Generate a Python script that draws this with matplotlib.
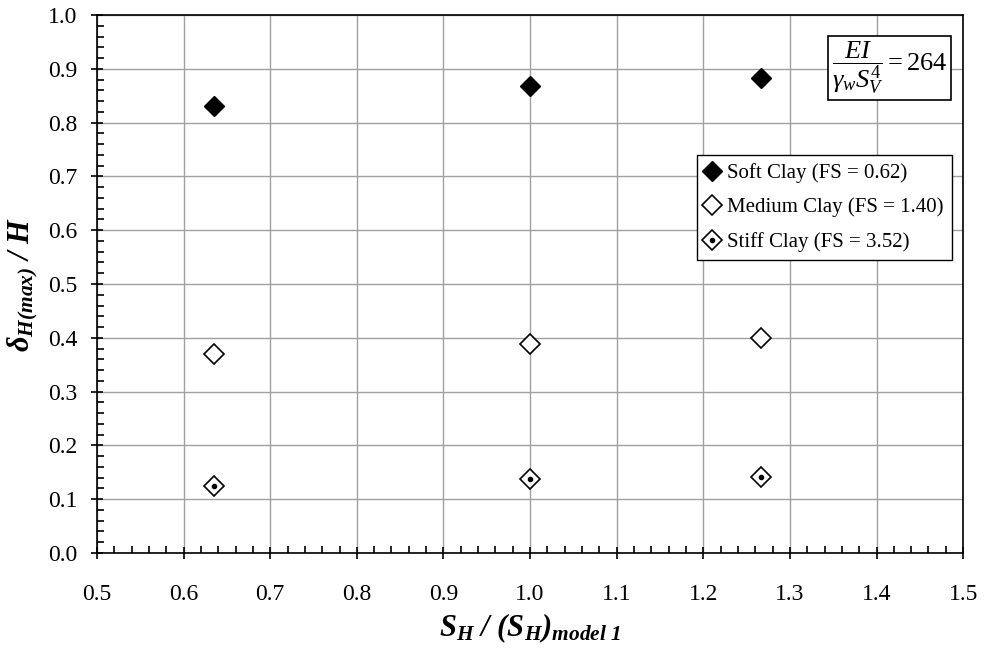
import numpy as np
import matplotlib.pyplot as plt
import matplotlib as mpl
from matplotlib.ticker import MultipleLocator

mpl.rc('font', family='Liberation Serif')
mpl.rcParams.update({'font.size': 16,
                     'mathtext.fontset': 'custom',
                     'mathtext.rm': 'Liberation Serif',
                     'mathtext.it': 'Liberation Serif:italic',
                     'mathtext.bf': 'Liberation Serif:bold:italic'})

# data
spacing = [0.635, 1.0, 1.267]
soft = [0.830, 0.868, 0.882]
medium = [0.370, 0.388, 0.400]
stiff = [0.125, 0.137, 0.142]
labels = ['Soft Clay (FS = 0.62)', 'Medium Clay (FS = 1.40)', 'Stiff Clay (FS = 3.52)']

fig = plt.figure(figsize=(9.96, 6.55), dpi=100)
ax = fig.add_axes([0.0974, 0.1557, 0.8696, 0.8214])

h1, = ax.plot(spacing, soft, 'D', color='black', ms=10, ls='none', zorder=3)
h2, = ax.plot(spacing, medium, 'D', mfc='white', mec='black', mew=1.2, ms=10, ls='none', zorder=3)
h3a, = ax.plot(spacing, stiff, 'D', mfc='white', mec='black', mew=1.2, ms=10, ls='none', zorder=3)
h3b, = ax.plot(spacing, stiff, 'o', color='black', ms=3, ls='none', zorder=4)

ax.set_xlim(0.5, 1.5)
ax.set_ylim(0.0, 1.0)
ax.xaxis.set_major_locator(MultipleLocator(0.1))
ax.xaxis.set_minor_locator(MultipleLocator(0.02))
ax.yaxis.set_major_locator(MultipleLocator(0.1))
ax.yaxis.set_minor_locator(MultipleLocator(0.02))
ax.xaxis.set_major_formatter(mpl.ticker.FormatStrFormatter('%.1f'))
ax.yaxis.set_major_formatter(mpl.ticker.FormatStrFormatter('%.1f'))
ax.tick_params(which='major', direction='inout', length=8, width=1.2, labelsize=17)
ax.tick_params(axis='x', which='major', pad=18)
ax.tick_params(axis='y', which='major', pad=10)
ax.tick_params(which='minor', direction='in', length=5, width=1.2)
ax.tick_params(top=False, right=False)
ax.grid(True, which='major', color='#a0a0a0', linewidth=1)
ax.set_axisbelow(True)
for s in ax.spines.values():
    s.set_linewidth(1.2)

ax.set_xlabel(r'$\mathbf{S}_{\mathbf{H}}\ \mathbf{/\ (S}_{\mathbf{H}}\mathbf{)}_{\mathbf{model\ 1}}$', fontsize=22, labelpad=5)
ax.set_ylabel(r'$\mathbf{\delta}_{\mathbf{H(max)}}\ \mathbf{/\ H}$', fontsize=22, labelpad=6)

ax.legend([h1, h2, (h3a, h3b)], labels, loc='upper right', bbox_to_anchor=(0.987, 0.74),
          fontsize=15, frameon=True, fancybox=False, edgecolor='black', framealpha=1,
          handlelength=0.7, handletextpad=0.35, borderpad=0.4, labelspacing=0.7, borderaxespad=0)

ax.text(0.915, 0.901, r'$\dfrac{EI}{\gamma_w S_V^4} = 264$', transform=ax.transAxes,
        ha='center', va='center', fontsize=19,
        bbox=dict(boxstyle='square,pad=0.15', facecolor='white', edgecolor='black', linewidth=1.2))

fig.savefig('out.png', dpi=100)
